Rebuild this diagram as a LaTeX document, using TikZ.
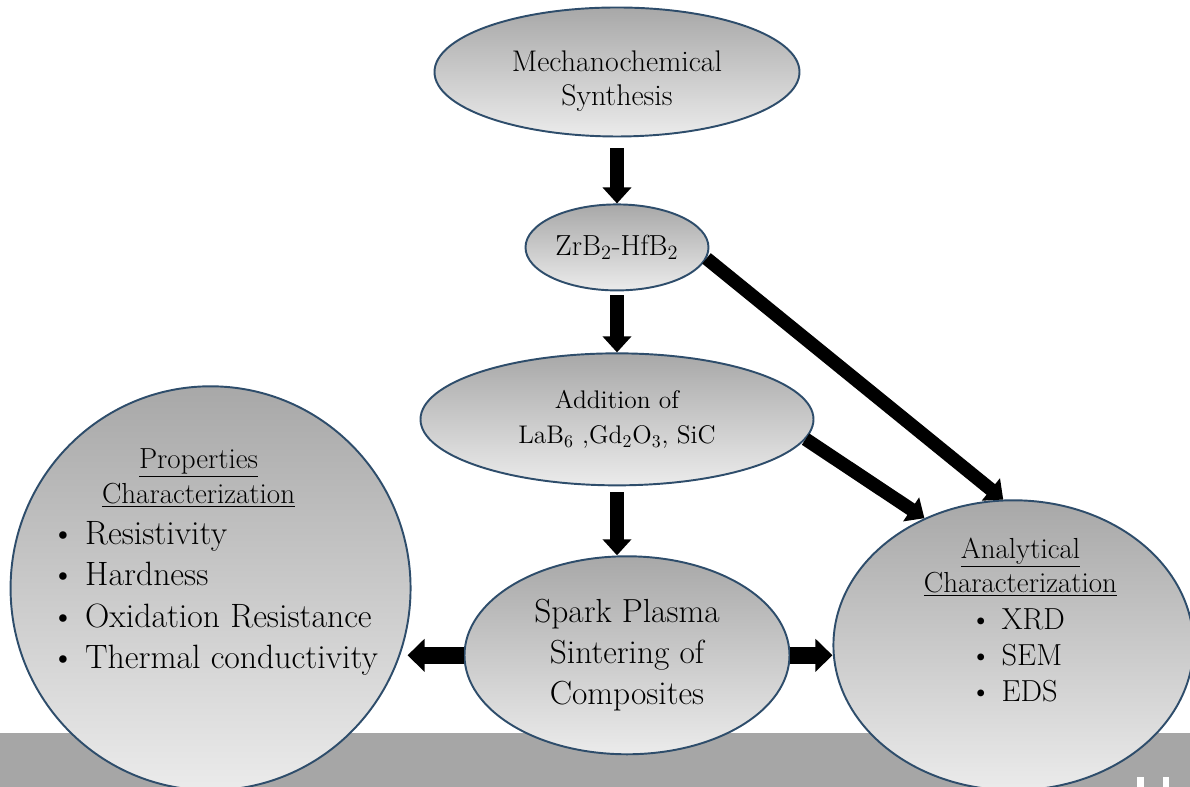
\documentclass[tikz,border=0pt]{standalone}
\usepackage{fontspec}
\usepackage{tikz}
\usetikzlibrary{arrows.meta,calc,positioning,shapes.geometric}

\definecolor{bubbleedge}{HTML}{2E4D6B}
\definecolor{shadetop}{HTML}{A8A8A8}
\definecolor{shadebot}{HTML}{EBEBEB}
\definecolor{bandgray}{HTML}{A6A6A6}

\begin{document}
\begin{tikzpicture}[auto,>={Triangle[width=0.56cm,length=0.32cm]}]
	\tikzstyle{bubble} = [draw=bubbleedge, line width=1.1pt, ellipse, inner sep=0pt, top color=shadetop, bottom color=shadebot, align=center]
	\tikzstyle{fatarrow} = [->, line width=0.27cm, black]
	\tikzstyle{listtext} = [inner sep=0pt, align=left, anchor=west]
	\tikzstyle{headtext} = [inner sep=0pt, align=center]

	\useasboundingbox (0,0) rectangle (23.8,15.74);
	% grey band at the bottom
	\fill[bandgray] (0,0) rectangle (23.8,1.08);
	\fill[white] (22.74,0) rectangle (22.88,0.2);
	\fill[white] (23.26,0) rectangle (23.38,0.2);

	\node [bubble, minimum width=7.3cm, minimum height=2.58cm] (mech) at (12.34,14.3) {};
	\node [headtext, font=\fontsize{17}{19.5}\selectfont] (mechtext) at ([yshift=-0.18cm]mech.center) {Mechanochemical\\Synthesis};
	\node [bubble, minimum width=3.66cm, minimum height=1.72cm, font=\fontsize{16.5}{18}\selectfont, below = 1.32cm of mech] (zrb) {ZrB\textsubscript{2}-HfB\textsubscript{2}};
	\node [bubble, minimum width=7.86cm, minimum height=2.64cm, font=\fontsize{14.5}{20}\selectfont, below = 1.22cm of zrb] (addn) {Addition of\\LaB\textsubscript{6} ,Gd\textsubscript{2}O\textsubscript{3}, SiC};
	\node [bubble, minimum width=6.5cm, minimum height=3.96cm, font=\fontsize{19}{23.5}\selectfont, below = 1.38cm of addn, xshift=0.2cm] (spark) {Spark Plasma\\Sintering of\\Composites};
	\node [bubble, minimum width=8cm, minimum height=8.08cm, left = 1.04cm of spark, yshift=1.34cm] (prop) {};
	\node [bubble, minimum width=7.2cm, minimum height=5.8cm, right = 0.84cm of spark, yshift=0.2cm] (anal) {};

	\node [headtext, font=\fontsize{16.5}{20}\selectfont] (proptitle) at ([xshift=-0.24cm,yshift=2.2cm]prop.center) {\underline{Properties}\\\underline{Characterization}};
	\node [listtext, font=\fontsize{19.2}{23.5}\selectfont] (proplist) at ([xshift=-3.2cm,yshift=-0.2cm]prop.center) {\textbullet\hspace{0.2cm}Resistivity\\\textbullet\hspace{0.2cm}Hardness\\\textbullet\hspace{0.2cm}Oxidation Resistance\\\textbullet\hspace{0.2cm}Thermal conductivity};

	\node [headtext, font=\fontsize{16.5}{19.5}\selectfont] (analtitle) at ([xshift=0.14cm,yshift=1.56cm]anal.center) {\underline{Analytical}\\\underline{Characterization}};
	\node [listtext, font=\fontsize{17.3}{20.5}\selectfont] (anallist) at ([xshift=-0.88cm,yshift=-0.2cm]anal.center) {\textbullet\hspace{0.2cm}XRD\\\textbullet\hspace{0.2cm}SEM\\\textbullet\hspace{0.2cm}EDS};

	\draw [fatarrow] ([yshift=-0.22cm]mech.south) -- (zrb.north);
	\draw [fatarrow] ([yshift=-0.08cm]zrb.south) -- (addn.north);
	\draw [fatarrow] ([yshift=-0.12cm]addn.south) -- (addn.south |- spark.north);
	\draw [fatarrow] (zrb.-7) -- (anal.94);
	\draw [fatarrow] (addn.-6) -- (anal.125);
	\draw [fatarrow, line width=0.33cm, >={Triangle[width=0.64cm,length=0.34cm]}] (spark.west) -- ([xshift=-0.08cm]spark.west -| prop.east);
	\draw [fatarrow, line width=0.33cm, >={Triangle[width=0.64cm,length=0.34cm]}] (spark.east) -- (spark.east -| anal.west);
\end{tikzpicture}
\end{document}
